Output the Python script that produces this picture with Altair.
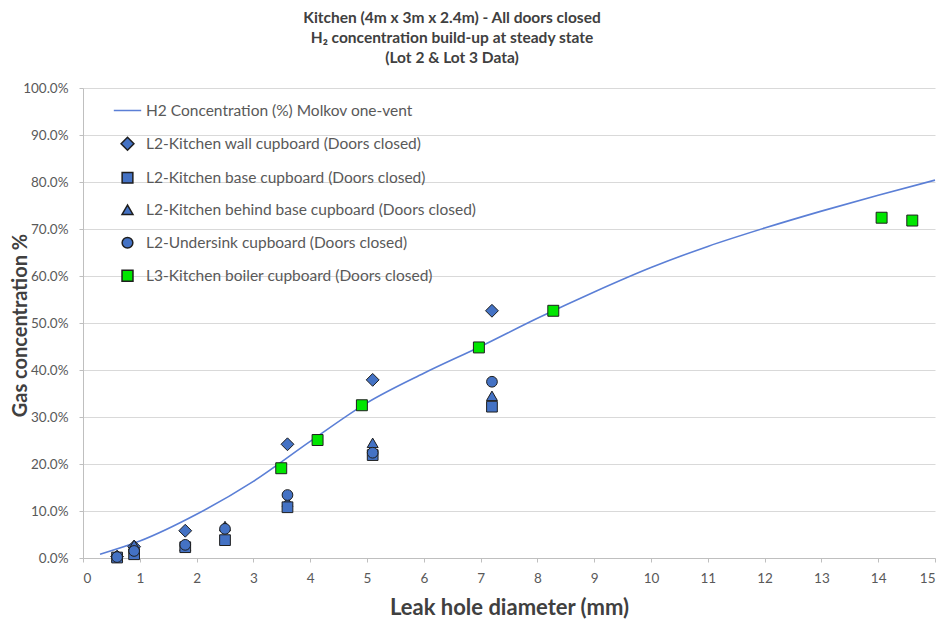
import altair as alt
import pandas as pd

# ---- data ----
series_names = [
    "H2 Concentration (%)  Molkov one-vent",
    "L2-Kitchen wall cupboard (Doors closed)",
    "L2-Kitchen base cupboard (Doors closed)",
    "L2-Kitchen behind base cupboard (Doors closed)",
    "L2-Undersink cupboard (Doors closed)",
    "L3-Kitchen boiler cupboard (Doors closed)",
]

curve_x = [0.3, 1, 2, 3, 4, 5, 6, 7, 8, 9, 10, 11, 12, 13, 14, 15]
curve_y = [0.8, 3.6, 9.3, 16.3, 24.8, 33.0, 39.3, 45.0, 51.0, 56.6, 61.8, 66.3, 70.2, 73.8, 77.2, 80.4]

wall_x = [0.6, 0.9, 1.8, 3.6, 5.1, 7.2]
wall_y = [0.3, 2.4, 5.8, 24.2, 37.9, 52.6]

behind_x = [0.6, 0.9, 1.8, 2.5, 3.6, 5.1, 7.2]
behind_y = [0.3, 2.8, 2.6, 6.8, 12.0, 24.5, 34.5]

base_x = [0.6, 0.9, 1.8, 2.5, 3.6, 5.1, 7.2]
base_y = [0.1, 0.8, 2.3, 3.8, 10.8, 21.9, 32.2]

undersink_x = [0.6, 0.9, 1.8, 2.5, 3.6, 5.1, 7.2]
undersink_y = [0.2, 1.5, 2.8, 6.2, 13.4, 22.4, 37.5]

boiler_x = [3.49, 4.13, 4.91, 6.97, 8.28, 14.06, 14.6]
boiler_y = [19.1, 25.1, 32.5, 44.8, 52.6, 72.4, 71.8]

y_ticks = [0, 10, 20, 30, 40, 50, 60, 70, 80, 90, 100]
x_ticks = list(range(16))

# ---- tables ----
curve_df = pd.DataFrame({"x": curve_x, "y": curve_y})

rows = []
for name, xs, ys in [
    (series_names[1], wall_x, wall_y),
    (series_names[3], behind_x, behind_y),
    (series_names[2], base_x, base_y),
    (series_names[4], undersink_x, undersink_y),
    (series_names[5], boiler_x, boiler_y),
]:
    for xv, yv in zip(xs, ys):
        rows.append({"x": xv, "y": yv, "series": name})
points_df = pd.DataFrame(rows)

FONT = "Lato"
BLUE = "#4472C4"
LINE = "#5B7FD6"
GREEN = "#00E600"
EDGE = "#1E1E1E"

x_enc = alt.X(
    "x:Q",
    scale=alt.Scale(domain=[0, 15], nice=False, zero=False),
    axis=alt.Axis(
        values=x_ticks,
        format="d",
        title="Leak hole diameter (mm)",
        grid=False,
        labelPadding=9,
        titleX=426,
        titleY=49,
        titleBaseline="middle",
        titleFontSize=22,
    ),
)
y_enc = alt.Y(
    "y:Q",
    scale=alt.Scale(domain=[0, 100], nice=False),
    axis=alt.Axis(
        values=y_ticks,
        labelExpr="format(datum.value, '.1f') + '%'",
        title="Gas concentration %",
        grid=True,
        labelPadding=11,
        titleX=-63,
        titleY=237,
        titleBaseline="middle",
        titleAlign="center",
        titleFontSize=20,
    ),
)

line = alt.Chart(curve_df).mark_line(
    color=LINE, strokeWidth=1.6, interpolate="monotone"
).encode(x=x_enc, y=y_enc)

leg = alt.Legend(title=None, orient="none", legendX=30, legendY=8)

points = alt.Chart(points_df).mark_point(
    filled=True, opacity=1, strokeWidth=1
).encode(
    x=alt.X("x:Q"),
    y=alt.Y("y:Q"),
    fill=alt.Fill(
        "series:N",
        scale=alt.Scale(domain=series_names, range=[LINE, BLUE, BLUE, BLUE, BLUE, GREEN]),
        legend=leg,
        sort=series_names,
    ),
    stroke=alt.Stroke(
        "series:N",
        scale=alt.Scale(domain=series_names, range=[LINE, EDGE, EDGE, EDGE, EDGE, EDGE]),
        legend=leg,
        sort=series_names,
    ),
    shape=alt.Shape(
        "series:N",
        scale=alt.Scale(
            domain=series_names,
            range=["stroke", "diamond", "square", "triangle-up", "circle", "square"],
        ),
        legend=leg,
        sort=series_names,
    ),
    size=alt.Size(
        "series:N",
        scale=alt.Scale(type="ordinal", domain=series_names, range=[750, 165, 115, 120, 115, 120]),
        legend=leg,
        sort=series_names,
    ),
)

chart = alt.layer(line, points).properties(
    width=852,
    height=470,
    autosize=alt.AutoSizeParams(type="none"),
    padding={"left": 83, "top": 88, "right": 4, "bottom": 66},
    title=alt.TitleParams(
        text=[
            "Kitchen (4m x 3m x 2.4m) - All doors closed",
            "H₂ concentration build-up at steady state",
            "(Lot 2 & Lot 3 Data)",
        ],
        font=FONT,
        fontSize=15.5,
        fontWeight="bold",
        color="#404040",
        lineHeight=20,
        anchor="middle",
        frame="group",
        dx=-57,
        offset=15,
    ),
).configure_view(
    stroke=None
).configure_axis(
    labelFont=FONT,
    labelFontSize=13.5,
    labelColor="#595959",
    titleFont=FONT,
    titleFontWeight="bold",
    titleColor="#404040",
    domainColor="#BFBFBF",
    tickColor="#BFBFBF",
    tickSize=4,
    gridColor="#D9D9D9",
    gridWidth=1,
).configure_legend(
    labelFont=FONT,
    labelFontSize=15.5,
    labelColor="#595959",
    rowPadding=15,
    padding=0,
    labelOffset=4,
    labelLimit=600,
)

chart.save("out.html", embed_options={"renderer": "svg", "actions": False})
